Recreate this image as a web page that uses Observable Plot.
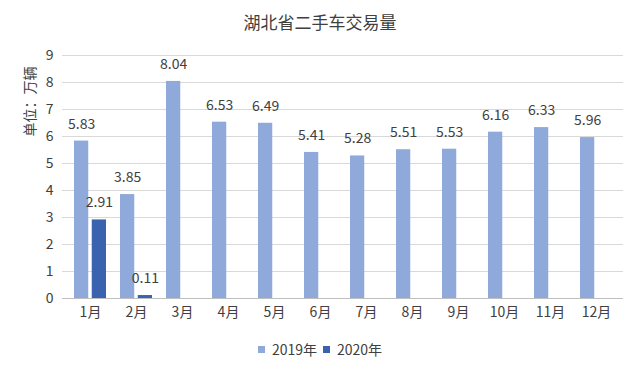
<!DOCTYPE html>
<html><head><meta charset="utf-8">
<script src="https://cdn.jsdelivr.net/npm/d3@7"></script>
<script src="https://cdn.jsdelivr.net/npm/@observablehq/plot@0.6"></script>
<style>
body{margin:0;background:#fff;font-family:'Noto Sans CJK SC',sans-serif;}
#wrap{position:relative;width:640px;height:373px;overflow:hidden;}
#title{position:absolute;top:9px;left:0;width:640px;text-align:center;font-size:17px;color:#404040;line-height:26px;}
#chart{position:absolute;top:40px;left:0;}
#legend{position:absolute;top:339px;left:0;width:640px;display:flex;justify-content:center;align-items:center;font-size:14px;color:#404040;line-height:20px;}
#legend .sw{display:inline-block;width:7px;height:7px;margin-right:7px;}
#legend .item{display:flex;align-items:center;margin:0 3px;}
</style></head>
<body><div id="wrap"><div id="title">湖北省二手车交易量</div><div id="chart"></div><div id="legend"></div></div>
<script>
const months = ["1月","2月","3月","4月","5月","6月","7月","8月","9月","10月","11月","12月"];
const series = ["2019年","2020年"];
const sales2019 = [5.83,3.85,8.04,6.53,6.49,5.41,5.28,5.51,5.53,6.16,6.33,5.96];
const sales2020 = [2.91,0.11,null,null,null,null,null,null,null,null,null,null];
const yTicks = [0,1,2,3,4,5,6,7,8,9];
const colors = ["#8FA9DA","#3A62AE"];

const d2019 = months.map((m,i)=>({month:m, value:sales2019[i]}));
const d2020 = months.map((m,i)=>({month:m, value:sales2020[i]})).filter(d=>d.value!=null);

const chart = Plot.plot({
  width:640, height:290,
  marginLeft:62, marginRight:17, marginTop:15, marginBottom:32,
  style:{fontFamily:"'Noto Sans CJK SC',sans-serif", fontSize:"14px", color:"#404040", background:"#fff"},
  x:{domain:months, padding:0},
  y:{domain:[0,9]},
  marks:[
    Plot.ruleY(yTicks.slice(1), {stroke:"#D9D9D9", strokeWidth:1}),
    Plot.barY(d2019, {x:"month", y:"value", fill:colors[0], insetLeft:7, insetRight:24.75}),
    Plot.barY(d2020, {x:"month", y:"value", fill:colors[1], insetLeft:24.75, insetRight:7}),
    Plot.ruleY([0], {stroke:"#BFBFBF", strokeWidth:1}),
    Plot.text(d2019, {x:"month", y:"value", text:d=>d.value.toFixed(2), dx:-8.875, dy:-17, fill:"#404040", fontSize:14}),
    Plot.text(d2020, {x:"month", y:"value", text:d=>d.value.toFixed(2), dx:8.875, dy:-17, fill:"#404040", fontSize:14}),
    Plot.axisY({ticks:yTicks, tickSize:0, tickPadding:9, label:null, fontSize:14, fill:"#404040"}),
    Plot.axisX({tickSize:0, tickPadding:9, label:null, fontSize:14, fill:"#404040"}),
    Plot.text(["单位：万辆"], {frameAnchor:"top-left", rotate:-90, dx:-32, dy:46, fontSize:14, fill:"#404040", textAnchor:"middle", lineAnchor:"middle"})
  ]
});
document.getElementById("chart").appendChild(chart);

const lg = document.getElementById("legend");
series.forEach((s,i)=>{
  const it = document.createElement("span"); it.className="item";
  const sw = document.createElement("span"); sw.className="sw"; sw.style.background=colors[i];
  it.appendChild(sw); it.appendChild(document.createTextNode(s));
  lg.appendChild(it);
});
</script></body></html>
